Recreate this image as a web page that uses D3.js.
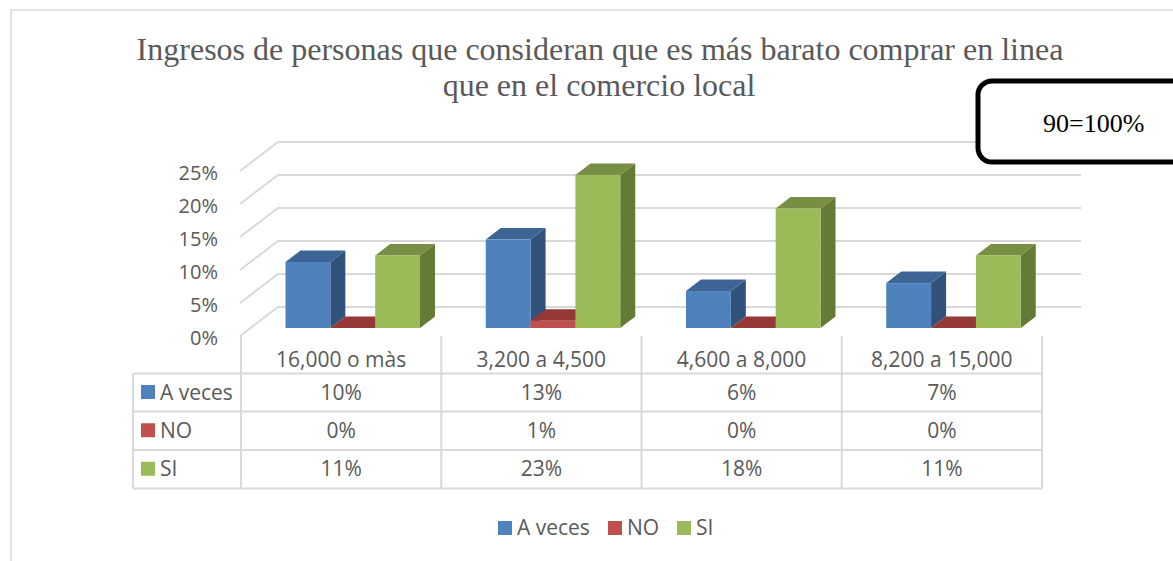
<!doctype html>
<html>

<head>
  <meta charset="UTF-8">
  <title>Ingresos</title>
  <script src="https://d3js.org/d3.v7.min.js"></script>
  <style>
    body { margin: 0; background: #fff; overflow: hidden; }
    svg { display: block; }
    text { font-family: "Open Sans", sans-serif; font-size: 21px; fill: #595959; }
    .serif { font-family: "Liberation Serif", serif; }
  </style>
</head>

<body>
  <script>
    var categories = ["16,000 o màs", "3,200 a 4,500", "4,600 a 8,000", "8,200 a 15,000"];
    var seriesNames = ["A veces", "NO", "SI"];
    var aVeces = [10, 13.4, 5.6, 6.8];
    var no = [0, 1.1, 0, 0];
    var si = [11, 23.2, 18.1, 11];
    var yTicks = [0, 5, 10, 15, 20, 25];
    var allValues = [aVeces, no, si];

    var frontColors = ["#4f81bd", "#c0504d", "#9bbb59"];
    var topColors = ["#3c6494", "#953836", "#778f45"];
    var sideColors = ["#31527b", "#7c2e2c", "#647a36"];
    var gridColor = "#d9d9d9";

    var svg = d3.select("body").append("svg").attr("width", 1173).attr("height", 561);

    // outer chart frame
    svg.append("path")
      .attr("d", "M11,561V10H1173")
      .attr("fill", "none")
      .attr("stroke", gridColor)
      .attr("stroke-width", 1.5);

    // title
    svg.append("text").attr("class", "serif").attr("x", 600).attr("y", 60)
      .attr("text-anchor", "middle").style("font-size", "32px")
      .text("Ingresos de personas que consideran que es más barato comprar en linea");
    svg.append("text").attr("class", "serif").attr("x", 599).attr("y", 96)
      .attr("text-anchor", "middle").style("font-size", "32px")
      .text("que en el comercio local");

    var y = d3.scaleLinear().domain([0, 25]).range([336, 171]);
    var x0 = d3.scaleBand().domain(categories).range([241, 1042]);
    var x1 = d3.scaleBand().domain(seriesNames).range([44.5, 179]);

    var wallDx = 38, wallDy = -29;   // side wall depth
    var barDx = 15, barDy = -11.5;   // bar depth
    var barLift = -8;                // bars stand in the middle of the floor

    // gridlines, diagonal part + back wall
    svg.append("g").selectAll("path").data(yTicks).enter().append("path")
      .attr("d", function(d) {
        return "M240," + y(d) + "L" + (240 + wallDx) + "," + (y(d) + wallDy) + "H1081";
      })
      .attr("fill", "none")
      .attr("stroke", gridColor)
      .attr("stroke-width", 2);

    // axis
    var axis = svg.append("g").attr("transform", "translate(218,2)")
      .call(d3.axisLeft(y).tickValues(yTicks).tickSize(0).tickPadding(0)
        .tickFormat(function(d) { return d + "%"; }));
    axis.select(".domain").remove();
    axis.selectAll("text").style("font-size", "20px").style("font-family", null).attr("fill", null);

    // bars
    allValues.forEach(function(values, s) {
      var g = svg.append("g");
      var w = x1.bandwidth();
      categories.forEach(function(c, i) {
        var left = x0(c) + x1(seriesNames[s]);
        var top = y(values[i]) + barLift;
        var base = y(0) + barLift;
        // side
        g.append("path")
          .attr("d", "M" + (left + w) + "," + top + "l" + barDx + "," + barDy + "V" + (base + barDy) + "l" + (-barDx) + "," + (-barDy) + "Z")
          .attr("fill", sideColors[s]);
        // top
        g.append("path")
          .attr("d", "M" + left + "," + top + "l" + barDx + "," + barDy + "h" + w + "l" + (-barDx) + "," + (-barDy) + "Z")
          .attr("fill", topColors[s]);
        // front
        g.append("rect")
          .attr("x", left).attr("y", top)
          .attr("width", w).attr("height", base - top)
          .attr("fill", frontColors[s]);
      });
    });

    // data table
    var rowLines = [373.5, 411.5, 450, 488.5];
    var table = svg.append("g").attr("stroke", gridColor).attr("stroke-width", 2);
    rowLines.forEach(function(ry) {
      table.append("line").attr("x1", 133).attr("x2", 1042).attr("y1", ry).attr("y2", ry);
    });
    table.append("line").attr("x1", 133).attr("x2", 133).attr("y1", rowLines[0]).attr("y2", rowLines[3]);
    x0.domain().forEach(function(c) {
      table.append("line").attr("x1", x0(c)).attr("x2", x0(c)).attr("y1", 336).attr("y2", rowLines[3]);
    });
    table.append("line").attr("x1", 1042).attr("x2", 1042).attr("y1", 336).attr("y2", rowLines[3]);

    svg.append("g").selectAll("text").data(categories).enter().append("text")
      .attr("x", function(d) { return x0(d) + x0.bandwidth() / 2; })
      .attr("y", 367)
      .attr("text-anchor", "middle")
      .text(function(d) { return d; });

    seriesNames.forEach(function(name, s) {
      var mid = (rowLines[s] + rowLines[s + 1]) / 2;
      svg.append("rect").attr("x", 141).attr("y", mid - 7.5).attr("width", 14).attr("height", 14)
        .attr("fill", frontColors[s]);
      svg.append("text").attr("x", 160).attr("y", mid + 7).text(name);
      categories.forEach(function(c, i) {
        svg.append("text")
          .attr("x", x0(c) + x0.bandwidth() / 2)
          .attr("y", mid + 7)
          .attr("text-anchor", "middle")
          .text(Math.round(allValues[s][i]) + "%");
      });
    });

    // bottom legend
    var legendSwatch = [498, 608, 677];
    seriesNames.forEach(function(name, s) {
      svg.append("rect").attr("x", legendSwatch[s]).attr("y", 521).attr("width", 14).attr("height", 14)
        .attr("fill", frontColors[s]);
      svg.append("text").attr("x", legendSwatch[s] + 19).attr("y", 535).text(name);
    });

    // note box
    svg.append("rect")
      .attr("x", 978).attr("y", 81).attr("width", 240).attr("height", 81)
      .attr("rx", 14).attr("ry", 14)
      .attr("fill", "#fff").attr("stroke", "#000").attr("stroke-width", 5);
    svg.append("text").attr("class", "serif").attr("x", 1043).attr("y", 132)
      .style("font-size", "26px").style("fill", "#000").text("90=100%");
  </script>
</body>

</html>
